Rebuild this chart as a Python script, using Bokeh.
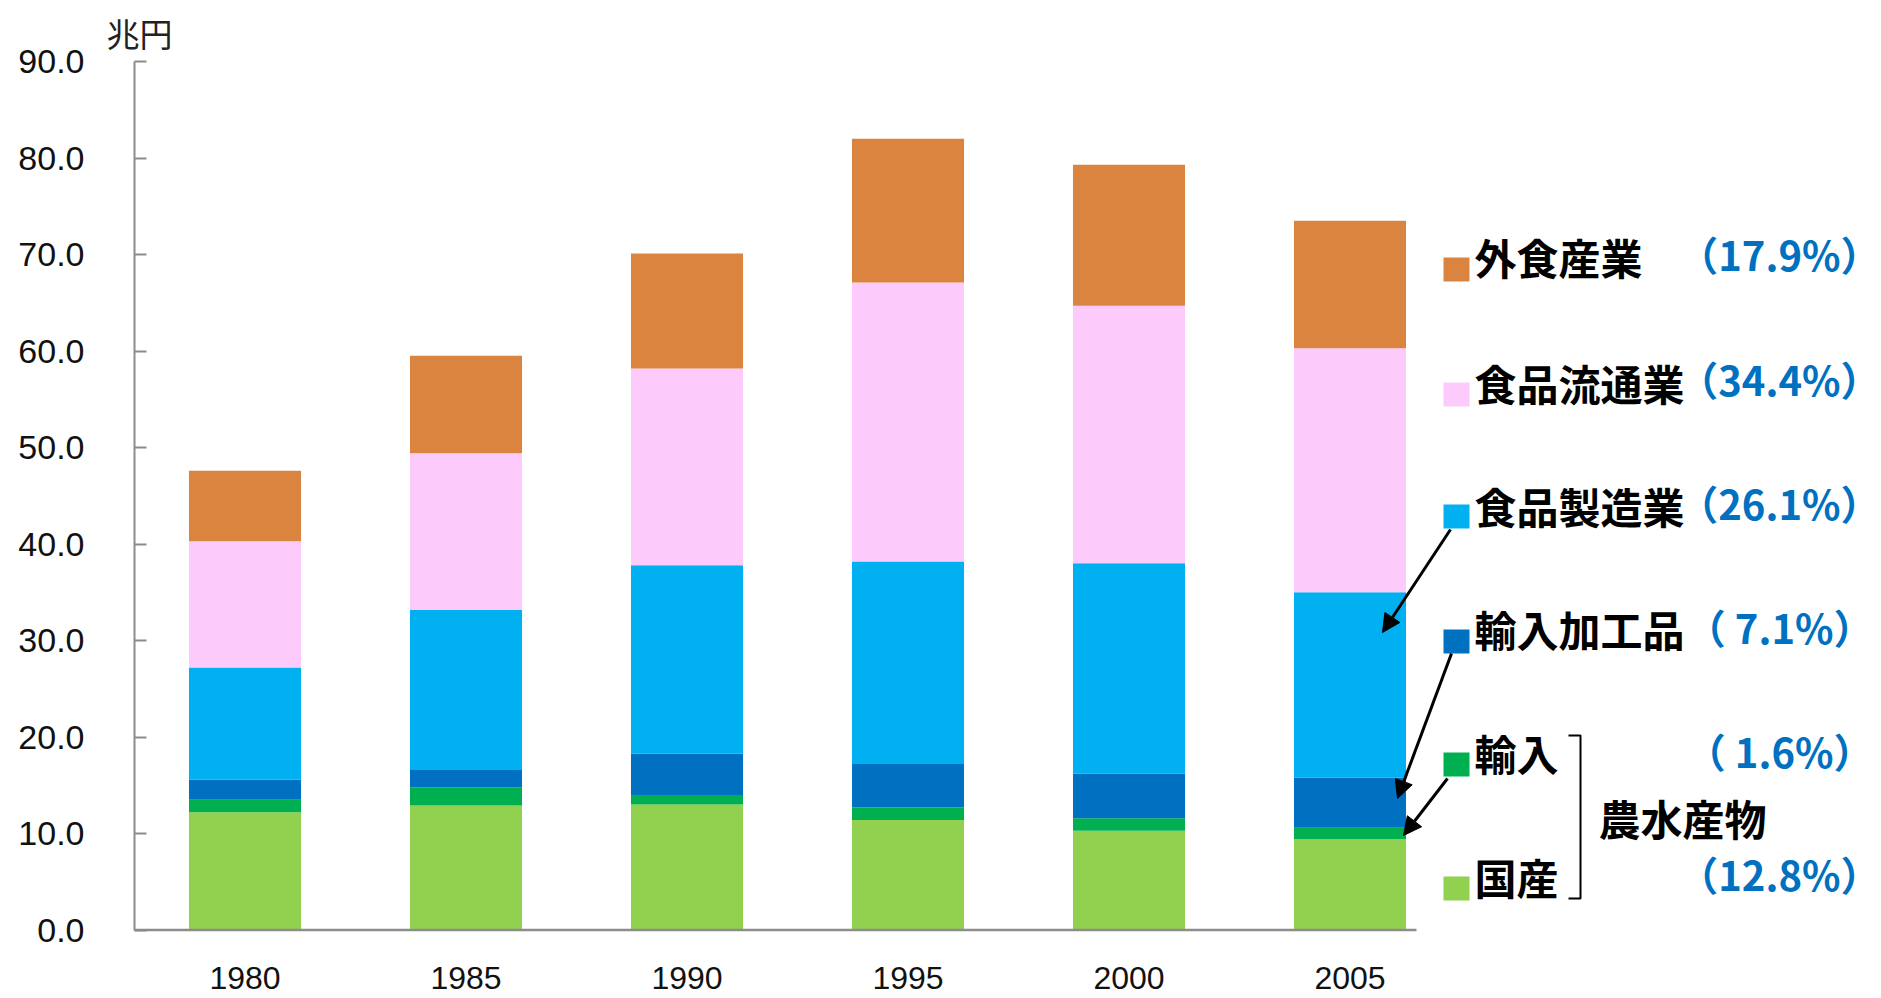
from bokeh.plotting import figure
from bokeh.models import Range1d, FixedTicker, NumeralTickFormatter, ColumnDataSource, Arrow, NormalHead
from bokeh.embed import file_html
from bokeh.resources import INLINE
from bokeh.core.properties import value

# ---------------- data ----------------
years = ["1980", "1985", "1990", "1995", "2000", "2005"]
domestic = [12.2, 12.9, 13.0, 11.4, 10.3, 9.4]          # 国産
imported = [1.3, 1.9, 1.0, 1.3, 1.3, 1.2]               # 輸入
imp_processed = [2.1, 1.8, 4.3, 4.5, 4.6, 5.2]          # 輸入加工品
manufacturing = [11.6, 16.6, 19.5, 21.0, 21.8, 19.2]    # 食品製造業
distribution = [13.1, 16.2, 20.4, 28.9, 26.7, 25.3]     # 食品流通業
food_service = [7.3, 10.1, 11.9, 14.9, 14.6, 13.2]      # 外食産業

legend_labels = ["外食産業", "食品流通業", "食品製造業", "輸入加工品", "輸入", "国産"]
legend_shares = ["（17.9%）", "（34.4%）", "（26.1%）", "（ 7.1%）", "（ 1.6%）", "（12.8%）"]
y_ticks = [0, 10, 20, 30, 40, 50, 60, 70, 80, 90]
unit_label = "兆円"
group_label = "農水産物"

keys = ["domestic", "imported", "imp_processed", "manufacturing", "distribution", "food_service"]
colors = ["#92D050", "#00B050", "#0070C0", "#00B0F0", "#FCCBFC", "#DB843F"]
legend_colors = ["#DB843F", "#FCCBFC", "#00B0F0", "#0070C0", "#00B050", "#92D050"]

# ---------------- layout helpers (pixel -> data) ----------------
W, H = 1881, 998
FL, FT, FB = 134, 61, 932
FW, FH = W - FL, FB - FT
XU = 221.0
Y0, Y1 = -0.25, 90.0
YU = FH / (Y1 - Y0)


def dx(px):
    return (px - FL) / XU


def dy(py):
    return Y1 - (py - FT) / YU


xs = [i + 0.5 for i in range(len(years))]
source = ColumnDataSource(dict(x=xs, domestic=domestic, imported=imported, imp_processed=imp_processed,
                               manufacturing=manufacturing, distribution=distribution,
                               food_service=food_service))

p = figure(width=W, height=H, min_border_left=FL, min_border_top=FT,
           min_border_right=0, min_border_bottom=H - FB,
           x_range=Range1d(0, FW / XU), y_range=Range1d(Y0, Y1),
           output_backend="svg", toolbar_location=None, background_fill_color="white",
           border_fill_color="white", title=unit_label)
p.outline_line_color = None
p.xgrid.visible = False
p.ygrid.visible = False

# unit label as title (top-left, outside the frame)
p.title.align = "left"
p.title.offset = -28
p.title.standoff = 10
p.title.text_font = "Noto Sans CJK JP"
p.title.text_font_size = "33px"
p.title.text_font_style = "normal"
p.title.text_color = "#222222"

p.vbar_stack(keys, x="x", width=0.507, color=colors, line_color=None, source=source)

# baseline
p.segment(x0=[0], y0=[0], x1=[dx(1416)], y1=[0], line_color="#8C8C8C", line_width=2.5)

# axes
GRAY = "#8C8C8C"
ya = p.yaxis[0]
ya.ticker = FixedTicker(ticks=y_ticks)
ya.formatter = NumeralTickFormatter(format="0.0")
ya.bounds = (0, 90)
ya.axis_line_color = GRAY
ya.axis_line_width = 2
ya.major_tick_line_color = GRAY
ya.major_tick_line_width = 2
ya.major_tick_in = 12
ya.major_tick_out = 0
ya.minor_tick_line_color = None
ya.major_label_standoff = 50
ya.major_label_text_font = "Liberation Sans"
ya.major_label_text_font_size = "34px"
ya.major_label_text_color = "#111111"

xa = p.xaxis[0]
xa.ticker = FixedTicker(ticks=xs)
xa.major_label_overrides = {x: y for x, y in zip(xs, years)}
xa.axis_line_color = None
xa.major_tick_line_color = None
xa.minor_tick_line_color = None
xa.major_label_standoff = 28
xa.major_label_text_font = "Liberation Sans"
xa.major_label_text_font_size = "32px"
xa.major_label_text_color = "#111111"

# legend
row_text_y = [256, 382, 505, 628, 752, 876]
row_sq_y = [269, 394, 516, 641, 764, 888]
JP = value("Noto Sans CJK JP")
p.rect(x=[dx(1456)] * 6, y=[dy(v) for v in row_sq_y], width=26, height=24,
       width_units="screen", height_units="screen", fill_color=legend_colors, line_color=None)
p.text(x=[dx(1474)] * 6, y=[dy(v) for v in row_text_y], text=legend_labels,
       text_font=JP, text_font_size="42px", text_font_style="bold",
       text_baseline="middle", text_align="left", text_color="black")

share_right = [1880, 1880, 1880, 1873, 1873, 1880]
share_y = [253, 378, 502, 626, 750, 873]
p.text(x=[dx(v) for v in share_right], y=[dy(v) for v in share_y], text=legend_shares,
       text_font=JP, text_font_size="40px", text_font_style="bold",
       text_baseline="middle", text_align="right", text_color="#0070C0")

p.text(x=[dx(1598)], y=[dy(817)], text=[group_label], text_font=JP, text_font_size="42px",
       text_font_style="bold", text_baseline="middle", text_align="left", text_color="black")

# bracket
p.multi_line(xs=[[dx(1568), dx(1580), dx(1580), dx(1568)]], ys=[[dy(735), dy(735), dy(898), dy(898)]],
             line_color="black", line_width=2)

# arrows
arrow_pts = [((1450, 529), (1382, 632)), ((1451, 653), (1397, 798)), ((1447, 778), (1403, 835))]
for (sx, sy), (ex, ey) in arrow_pts:
    p.add_layout(Arrow(end=NormalHead(size=18, fill_color="black", line_color="black"),
                       x_start=dx(sx), y_start=dy(sy), x_end=dx(ex), y_end=dy(ey),
                       line_color="black", line_width=3))

open("out.html", "w").write(file_html(p, INLINE))
